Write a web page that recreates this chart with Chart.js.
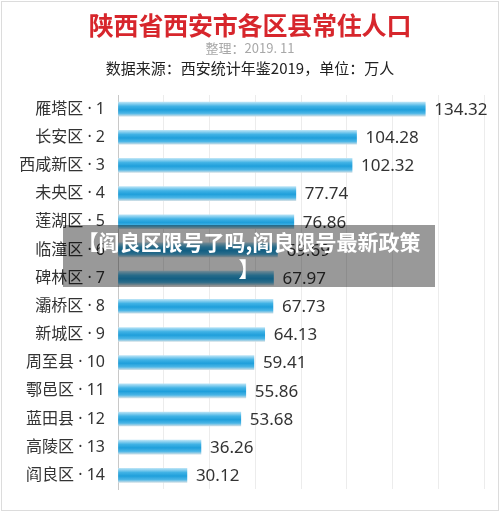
<!DOCTYPE html>
<html>
<head>
<meta charset="utf-8">
<script src="https://cdn.jsdelivr.net/npm/chart.js@4"></script>
<style>
  html, body { margin: 0; padding: 0; background: #fff; }
  #wrap { position: relative; width: 500px; height: 512px; overflow: hidden; font-family: "Noto Sans CJK SC", "Noto Sans", sans-serif; }
  #frame { position: absolute; left: 1px; top: 1px; width: 496px; height: 508px; border: 1px solid #dcdcdc; pointer-events: none; }
  .hd { position: absolute; left: 0; width: 500px; text-align: center; white-space: nowrap; }
  #t1 { top: 6px; font-size: 25px; line-height: 36px; font-weight: bold; color: #d7262c; letter-spacing: -0.2px; }
  #t2 { top: 39px; font-size: 13px; line-height: 18px; color: #a8a8a8; }
  #t3 { top: 57px; font-size: 15px; line-height: 22px; color: #222; }
  #cv { position: absolute; left: 0; top: 0; }
  #overlay { position: absolute; left: 63px; top: 225px; width: 372px; height: 62px; background: rgba(0,0,0,0.4); color: #fff; font-weight: bold; font-size: 21px; line-height: 27px; text-align: center; padding-top: 3px; box-sizing: border-box; white-space: nowrap; }
</style>
</head>
<body>
<div id="wrap">
  <canvas id="cv" width="500" height="512"></canvas>
  <div class="hd" id="t1">陕西省西安市各区县常住人口</div>
  <div class="hd" id="t2">整理：2019. 11</div>
  <div class="hd" id="t3">数据来源：西安统计年鉴2019，单位：万人</div>
  <div id="overlay">【阎良区限号了吗,阎良限号最新政策<br>】</div>
  <div id="frame"></div>
</div>
<script>
const districts = ["雁塔区","长安区","西咸新区","未央区","莲湖区","临潼区","碑林区","灞桥区","新城区","周至县","鄠邑区","蓝田县","高陵区","阎良区"];
const ranks = [1,2,3,4,5,6,7,8,9,10,11,12,13,14];
const population = [134.32,104.28,102.32,77.74,76.86,69.69,67.97,67.73,64.13,59.41,55.86,53.68,36.26,30.12];
const axisMax = 160;
const axisStep = 20;

const labels = districts.map((d, i) => d + " · " + ranks[i]);

const valueLabels = {
  id: 'valueLabels',
  afterDatasetsDraw(chart) {
    const ctx = chart.ctx;
    const meta = chart.getDatasetMeta(0);
    ctx.save();
    ctx.font = '17px "Noto Sans", "Noto Sans CJK SC", sans-serif';
    ctx.fillStyle = '#333';
    ctx.textAlign = 'left';
    ctx.textBaseline = 'middle';
    meta.data.forEach((bar, i) => {
      ctx.fillText(population[i].toFixed(2), bar.x + 9, bar.y + 1);
    });
    ctx.restore();
  }
};

function barGradient(context) {
  const chart = context.chart;
  const yScale = chart.scales.y;
  if (!yScale || context.dataIndex === undefined) return '#1d9ed9';
  const c = yScale.getPixelForValue(context.dataIndex);
  if (!isFinite(c)) return '#1d9ed9';
  const h = 7;
  const g = chart.ctx.createLinearGradient(0, c - h, 0, c + h);
  g.addColorStop(0, '#b8e3f6');
  g.addColorStop(0.3, '#40b2e5');
  g.addColorStop(0.55, '#1f9fdb');
  g.addColorStop(0.8, '#4ab5e6');
  g.addColorStop(1, '#c9dde6');
  return g;
}

new Chart(document.getElementById('cv'), {
  type: 'bar',
  data: {
    labels: labels,
    datasets: [{
      data: population,
      backgroundColor: barGradient,
      borderWidth: 0,
      barThickness: 14
    }]
  },
  options: {
    indexAxis: 'y',
    responsive: false,
    animation: false,
    layout: { padding: { top: 95, right: 16, bottom: 17, left: 0 } },
    plugins: { legend: { display: false }, tooltip: { enabled: false }, title: { display: false } },
    scales: {
      x: {
        min: 0, max: axisMax,
        afterFit(scale) { scale.height = 0; },
        ticks: { display: false, stepSize: axisStep },
        grid: { color: '#ececec', lineWidth: 1, drawTicks: false },
        border: { display: false }
      },
      y: {
        afterFit(scale) { scale.width = 118; },
        ticks: { color: '#333', font: { size: 16, family: '"Noto Sans", "Noto Sans CJK SC", sans-serif' }, padding: 13 },
        grid: { display: false, drawTicks: false },
        border: { display: true, color: '#c8c8c8', width: 1 }
      }
    }
  },
  plugins: [valueLabels]
});
</script>
</body>
</html>
